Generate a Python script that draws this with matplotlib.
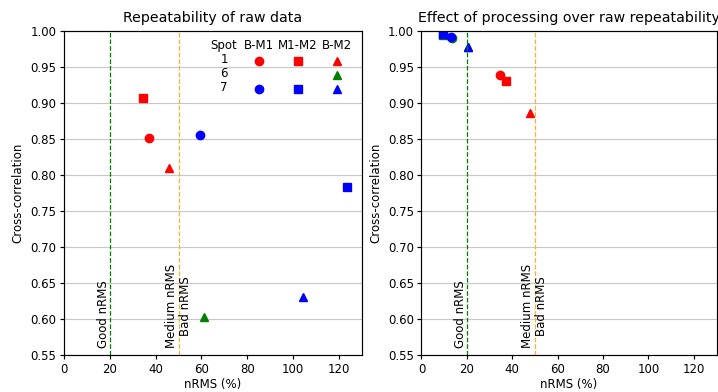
import matplotlib
matplotlib.use('Agg')
import matplotlib.pyplot as plt

# comparisons and their markers
pairs = ['B-M1', 'M1-M2', 'B-M2']
markers = ['o', 's', '^']
spots = ['1', '6', '7']
spot_colors = {'1': 'red', '6': 'green', '7': 'blue'}

# raw data: (spot, pair) -> (nRMS %, cross-correlation)
raw_spot = ['1', '1', '1', '6', '7', '7', '7']
raw_pair = ['B-M1', 'M1-M2', 'B-M2', 'B-M2', 'B-M1', 'M1-M2', 'B-M2']
raw_nrms = [36.9, 34.3, 46.0, 61.3, 59.2, 123.4, 104.3]
raw_corr = [0.851, 0.907, 0.809, 0.603, 0.855, 0.783, 0.631]

# processed data
proc_spot = ['6', '6', '6', '1', '1', '1', '7', '7', '7']
proc_pair = ['M1-M2', 'B-M1', 'B-M2', 'B-M1', 'M1-M2', 'B-M2', 'M1-M2', 'B-M1', 'B-M2']
proc_nrms = [9.6, 13.4, 20.7, 34.6, 37.1, 47.8, 9.6, 13.1, 20.7]
proc_corr = [0.994, 0.9895, 0.978, 0.939, 0.931, 0.886, 0.995, 0.991, 0.978]

good_nrms = 20
medium_nrms = 50

fs = 8.5


def draw_panel(ax, spot, pair, nrms, corr, title):
    for s, p, x, y in zip(spot, pair, nrms, corr):
        ax.plot(x, y, linestyle='none', marker=markers[pairs.index(p)],
                color=spot_colors[s], markersize=6)
    ax.axvline(good_nrms, color='green', linestyle='--', linewidth=0.9)
    ax.axvline(medium_nrms, color='#ffb030', linestyle='--', linewidth=0.9)
    ax.text(good_nrms, 0.56, 'Good nRMS', rotation=90, ha='right', va='bottom', fontsize=fs)
    ax.text(medium_nrms, 0.56, 'Medium nRMS\nBad nRMS', rotation=90, ha='center',
            va='bottom', fontsize=fs, linespacing=1.1)
    ax.set_xlim(0, 130)
    ax.set_ylim(0.55, 1.0)
    ax.set_yticks([0.55 + 0.05 * i for i in range(10)])
    ax.yaxis.grid(True, color='#c8c8c8', linewidth=0.85)
    ax.set_axisbelow(True)
    ax.set_xlabel('nRMS (%)', fontsize=fs, labelpad=1.5)
    ax.set_ylabel('Cross-correlation', fontsize=fs)
    ax.set_title(title, fontsize=10.2)
    ax.tick_params(labelsize=fs, width=0.85, length=3, pad=2.5)
    for sp in ax.spines.values():
        sp.set_linewidth(0.85)


fig = plt.figure(figsize=(7.18, 3.92), dpi=100)
ax1 = fig.add_axes([0.0891, 0.0944, 0.415, 0.827])
ax2 = fig.add_axes([0.587, 0.0944, 0.411, 0.827])

draw_panel(ax1, raw_spot, raw_pair, raw_nrms, raw_corr, 'Repeatability of raw data')
draw_panel(ax2, proc_spot, proc_pair, proc_nrms, proc_corr,
           'Effect of processing over raw repeatability')

# table-like legend built by hand on the left panel
col_x = [0.654, 0.785, 0.916]
row_y = {'1': 0.908, '6': 0.865, '7': 0.820}
ax1.text(0.537, 0.955, 'Spot', transform=ax1.transAxes, ha='center', va='center', fontsize=fs)
for p, cx in zip(pairs, col_x):
    ax1.text(cx, 0.955, p, transform=ax1.transAxes, ha='center', va='center', fontsize=fs)
for s in spots:
    ax1.text(0.537, row_y[s] + 0.004, s, transform=ax1.transAxes, ha='center', va='center',
             fontsize=fs)
legend_entries = set(zip(raw_spot, raw_pair))
for s in spots:
    for p, cx in zip(pairs, col_x):
        if (s, p) in legend_entries:
            ax1.plot(cx, row_y[s], transform=ax1.transAxes, linestyle='none',
                     marker=markers[pairs.index(p)], color=spot_colors[s],
                     markersize=6, clip_on=False)

plt.savefig('out.png', dpi=100)
